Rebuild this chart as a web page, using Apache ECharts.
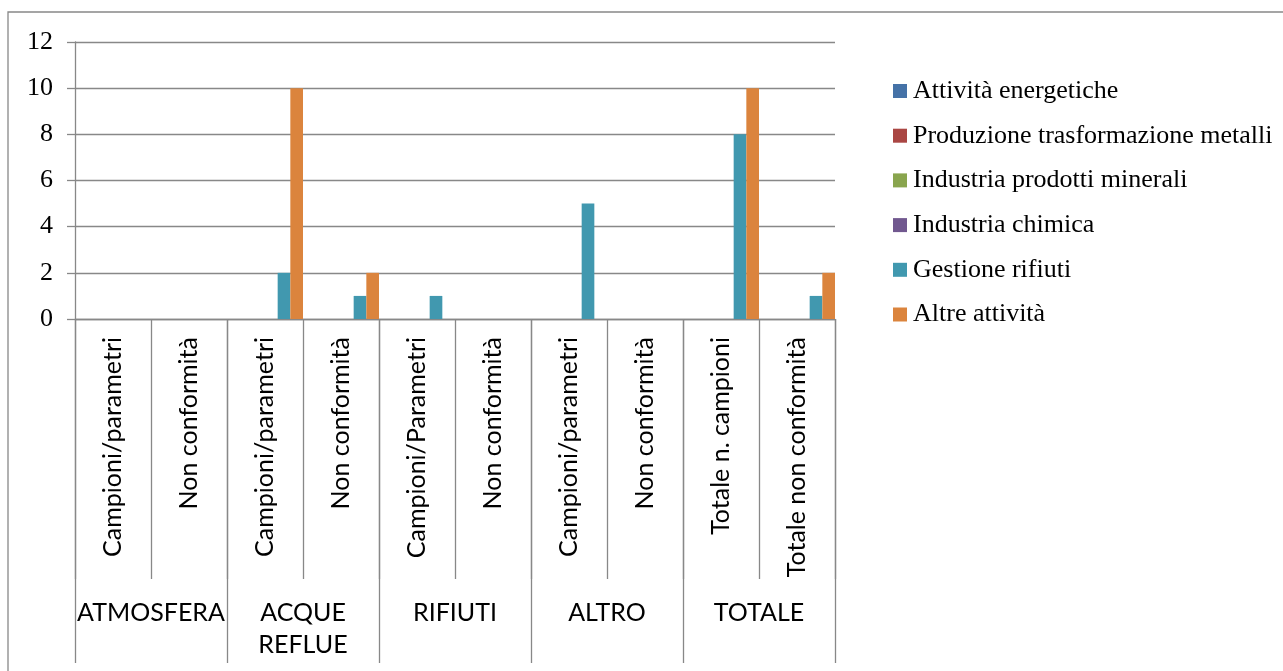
<!DOCTYPE html>
<html>
<head>
<meta charset="utf-8">
<script src="https://cdn.jsdelivr.net/npm/echarts@6/dist/echarts.min.js"></script>
<style>
html,body{margin:0;padding:0;background:#fff;}
#chart{width:1283px;height:671px;}
</style>
</head>
<body>
<div id="chart"></div>
<script>
const categories = ['Campioni/parametri','Non conformità','Campioni/parametri','Non conformità','Campioni/Parametri','Non conformità','Campioni/parametri','Non conformità','Totale n. campioni','Totale non conformità'];
const groups = ['ATMOSFERA','ACQUE\nREFLUE','RIFIUTI','ALTRO','TOTALE'];
const seriesNames = ['Attività energetiche','Produzione trasformazione metalli','Industria prodotti minerali','Industria chimica','Gestione rifiuti','Altre attività'];
const attivitaEnergetiche = [0,0,0,0,0,0,0,0,0,0];
const produzioneMetalli   = [0,0,0,0,0,0,0,0,0,0];
const prodottiMinerali    = [0,0,0,0,0,0,0,0,0,0];
const industriaChimica    = [0,0,0,0,0,0,0,0,0,0];
const gestioneRifiuti     = [0,0,2,1,1,0,5,0,8,1];
const altreAttivita       = [0,0,10,2,0,0,0,0,10,2];
const yTicks = {min:0, max:12, interval:2};

const seriesValues = [attivitaEnergetiche, produzioneMetalli, prodottiMinerali, industriaChimica, gestioneRifiuti, altreAttivita];
const colors = ['#4572A7','#AA4643','#89A54E','#71588F','#4198AF','#DB843D'];
const grey = '#888888';
const sans = 'Lato';
const serif = '"Liberation Serif", "Times New Roman", serif';

const chart = echarts.init(document.getElementById('chart'), null, {renderer:'canvas'});
chart.setOption({
  animation:false,
  color:colors,
  graphic:[{type:'rect', shape:{x:8, y:12, width:1400, height:800}, style:{fill:'none', stroke:grey, lineWidth:1.3}, silent:true}],
  grid:{left:75, right:448, top:42, bottom:352, containLabel:false},
  legend:{
    orient:'vertical', left:888, top:73,
    itemWidth:14, itemHeight:14, itemGap:18.7,
    icon:'rect',
    textStyle:{fontFamily:serif, fontSize:26, color:'#000', lineHeight:26, padding:[0,0,0,1]},
    data:seriesNames
  },
  xAxis:[{
    type:'category', data:categories, position:'bottom',
    axisLine:{show:true, lineStyle:{color:grey, width:1.3}},
    axisTick:{show:true, interval:0, length:260, lineStyle:{color:grey, width:1.3}},
    axisLabel:{interval:0, rotate:90, margin:18, fontFamily:sans, fontSize:25, color:'#000'},
    splitLine:{show:false}
  },{
    type:'category', data:groups, position:'bottom', offset:0,
    axisLine:{show:false},
    axisTick:{show:true, interval:0, length:344, lineStyle:{color:grey, width:1.3}},
    axisLabel:{interval:0, margin:278, fontFamily:sans, fontSize:25, lineHeight:32, color:'#000'},
    splitLine:{show:false}
  }],
  yAxis:{
    type:'value', min:yTicks.min, max:yTicks.max, interval:yTicks.interval,
    axisLine:{show:true, lineStyle:{color:grey, width:1.3}},
    axisTick:{show:true, length:8, lineStyle:{color:grey, width:1.3}},
    axisLabel:{margin:22, fontFamily:serif, fontSize:26, color:'#000'},
    splitLine:{show:true, lineStyle:{color:grey, width:1.3}}
  },
  series:seriesNames.map((n,i)=>({
    name:n, type:'bar', xAxisIndex:0, data:seriesValues[i],
    barGap:'0%', barCategoryGap:'0%',
    itemStyle:{color:colors[i]}
  }))
});
</script>
</body>
</html>
